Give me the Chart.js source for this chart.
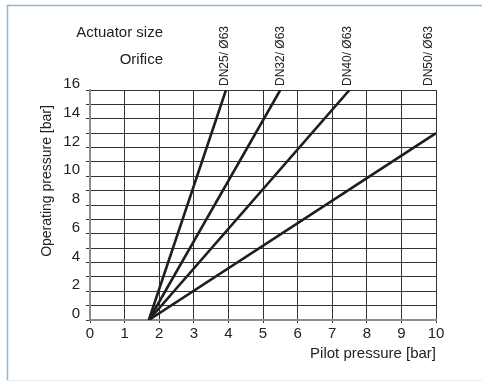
<!DOCTYPE html>
<html>
<head>
<meta charset="utf-8">
<script src="https://cdn.jsdelivr.net/npm/chart.js@4/dist/chart.umd.min.js"></script>
<style>
  html, body { margin: 0; padding: 0; background: #fff; }
  #wrap { position: relative; width: 482px; height: 381px; }
</style>
</head>
<body>
<div id="wrap"><canvas id="c" width="482" height="381"></canvas></div>
<script>
// ---- data ----
const seriesNames = ['DN25/ Ø63', 'DN32/ Ø63', 'DN40/ Ø63', 'DN50/ Ø63'];
const startPilot = [1.7, 1.7, 1.7, 1.7];          // bar, where every line starts
const startOperating = [0, 0, 0, 0];
const endPilot = [3.93, 5.5, 7.5, 10];             // bar
const endOperating = [16, 16, 16, 13];             // bar
const labelPilot = [3.93, 5.55, 7.5, 9.83];        // where the size labels stand (x value)
const xTicks = [0, 1, 2, 3, 4, 5, 6, 7, 8, 9, 10];
const yTicks = [0, 2, 4, 6, 8, 10, 12, 14, 16];
const headerLabels = ['Actuator size', 'Orifice'];
const xTitle = 'Pilot pressure [bar]';
const yTitle = 'Operating pressure [bar]';

const FONT = '"Liberation Sans", Arial, sans-serif';
const INK = '#222';

const datasets = seriesNames.map((name, i) => ({
  label: name,
  data: [{ x: startPilot[i], y: startOperating[i] }, { x: endPilot[i], y: endOperating[i] }],
  borderColor: '#1e1e1e',
  borderWidth: 2.6,
  pointRadius: 0,
  showLine: true,
  fill: false,
  tension: 0,
  xAxisID: 'x',
  yAxisID: 'y'
}));

const decor = {
  id: 'decor',
  beforeDraw(chart) {
    const ctx = chart.ctx;
    ctx.save();
    ctx.fillStyle = '#fff';
    ctx.fillRect(0, 0, chart.width, chart.height);
    ctx.restore();
  },
  afterDraw(chart) {
    const ctx = chart.ctx;
    ctx.save();
    // frame
    ctx.strokeStyle = '#93b3d3';
    ctx.lineWidth = 1.5;
    ctx.beginPath();
    ctx.moveTo(482, 5.5); ctx.lineTo(7.5, 5.5); ctx.lineTo(7.5, 381);
    ctx.stroke();
    ctx.strokeStyle = '#e3ebf4';
    ctx.lineWidth = 1;
    ctx.beginPath();
    ctx.moveTo(7, 380.5); ctx.lineTo(482, 380.5);
    ctx.stroke();
    // header labels
    ctx.fillStyle = INK;
    ctx.font = '15px ' + FONT;
    ctx.textAlign = 'right';
    ctx.textBaseline = 'middle';
    ctx.fillText(headerLabels[0], 163, 33);
    ctx.fillText(headerLabels[1], 163, 60);
    // y title
    ctx.font = '14px ' + FONT;
    ctx.translate(47, 181);
    ctx.rotate(-Math.PI / 2);
    ctx.textAlign = 'center';
    ctx.fillText(yTitle, 0, 0);
    ctx.restore();
  }
};

new Chart(document.getElementById('c'), {
  type: 'scatter',
  data: { datasets },
  options: {
    responsive: false,
    animation: false,
    events: [],
    layout: { padding: { left: 0, right: 46, top: 0, bottom: 0 } },
    plugins: { legend: { display: false }, tooltip: { enabled: false }, title: { display: false } },
    scales: {
      x: {
        type: 'linear',
        position: 'bottom',
        min: 0, max: 10,
        afterBuildTicks: s => { s.ticks = xTicks.map(v => ({ value: v })); },
        afterFit: s => { s.height = 61; },
        ticks: { color: INK, font: { family: FONT, size: 15 }, padding: 2, maxRotation: 0, autoSkip: false },
        grid: { color: '#333', lineWidth: 1, tickLength: 3, drawTicks: true },
        border: { color: '#8c8c8c', width: 2 },
        title: { display: true, text: xTitle, align: 'end', color: INK, font: { family: FONT, size: 15 }, padding: { top: 2, bottom: 18 } }
      },
      top: {
        type: 'linear',
        position: 'top',
        min: 0, max: 10,
        afterBuildTicks: s => { s.ticks = labelPilot.map(v => ({ value: v })); },
        afterFit: s => { s.height = 90; },
        ticks: {
          color: INK, font: { family: FONT, size: 12 }, padding: 4, labelOffset: 13,
          minRotation: 90, maxRotation: 90, autoSkip: false,
          callback: (v, i) => seriesNames[i]
        },
        grid: { display: false, drawTicks: false },
        border: { display: false }
      },
      y: {
        type: 'linear',
        position: 'left',
        min: 0, max: 16,
        ticks: {
          stepSize: 1, color: INK, font: { family: FONT, size: 15 }, padding: 6, labelOffset: -6,
          autoSkip: false,
          callback: v => (yTicks.includes(v) ? String(v) : '')
        },
        afterFit: s => { s.width = 90; },
        grid: { color: '#333', lineWidth: 1, tickLength: 4 },
        border: { color: '#8c8c8c', width: 2 }
      }
    }
  },
  plugins: [decor]
});
</script>
</body>
</html>
